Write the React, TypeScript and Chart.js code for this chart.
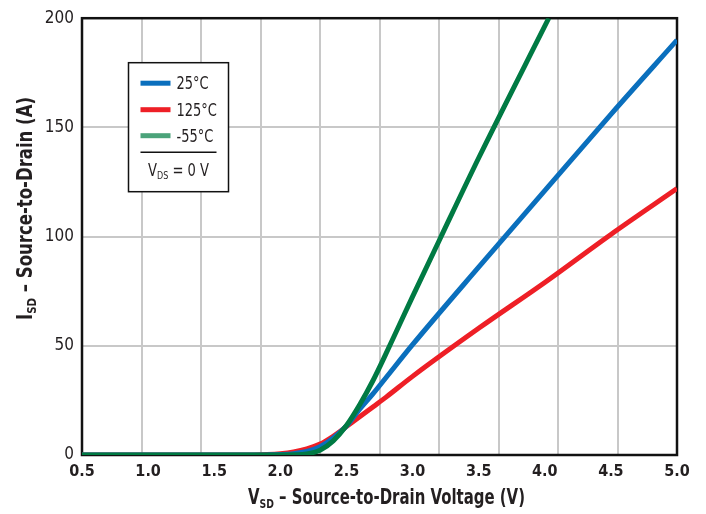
import { useEffect, useRef } from 'react';
import { Chart, registerables } from 'chart.js';

Chart.register(...registerables);

// ---- Data ----
const voltage = [0.5, 1.0, 1.5, 1.8, 1.9, 2.0, 2.1, 2.2, 2.3, 2.4, 2.5, 2.6, 2.7, 2.8, 3.0, 3.5, 4.0, 4.5, 5.0];
const current25 = [0, 0, 0, 0, 0.05, 0.2, 0.6, 1.6, 3.8, 7.8, 13.3, 21, 28, 35.5, 50.5, 86, 121, 156, 190];
const current125 = [0, 0, 0, 0.05, 0.2, 0.6, 1.4, 2.8, 5.0, 8.6, 13, 17.5, 22, 26.5, 36, 58, 79, 101, 122];
const voltageM55 = [0.5, 1.0, 1.5, 1.8, 2.0, 2.1, 2.2, 2.3, 2.4, 2.5, 2.6, 2.7, 2.8, 2.9, 3.0, 3.2, 3.5, 4.03];
const currentM55 = [0, 0, 0, 0, 0, 0.1, 0.5, 2.2, 6.5, 13.5, 23, 34, 46.5, 59.5, 72.5, 98, 136, 200];

const xTicks = [0.5, 1.0, 1.5, 2.0, 2.5, 3.0, 3.5, 4.0, 4.5, 5.0];
const yTicks = [0, 50, 100, 150, 200];

const seriesLabels = ['25°C', '125°C', '-55°C'];
const seriesColors = ['#0a6fbd', '#ee1f26', '#007a43'];
const legendColors = ['#0a6fbd', '#ee1f26', '#4ba37a'];

const FONT = '"Liberation Sans Narrow", "DejaVu Sans Condensed", "Arial Narrow", sans-serif';
const TEXT = '#231f20';

type Part = [string, boolean];

// draws centred text made of normal/subscript parts, squeezed horizontally to a target width
function drawParts(
  ctx: CanvasRenderingContext2D,
  parts: Part[],
  x: number,
  y: number,
  size: number,
  weight: string,
  targetWidth: number,
) {
  const subSize = Math.round(size * 0.62);
  const widths = parts.map(([t, sub]) => {
    ctx.font = `${weight} ${sub ? subSize : size}px ${FONT}`;
    return ctx.measureText(t).width;
  });
  const total = widths.reduce((a, b) => a + b, 0);
  const sx = targetWidth / total;
  ctx.save();
  ctx.translate(x, y);
  ctx.scale(sx, 1);
  let cx = -total / 2;
  ctx.textBaseline = 'alphabetic';
  ctx.textAlign = 'left';
  parts.forEach(([t, sub], i) => {
    ctx.font = `${weight} ${sub ? subSize : size}px ${FONT}`;
    ctx.fillText(t, cx, sub ? size * 0.2 : 0);
    cx += widths[i];
  });
  ctx.restore();
}

const decorPlugin = {
  id: 'decor',
  beforeDatasetsDraw(chart: any) {
    const { ctx, chartArea: ca } = chart;
    ctx.save();
    ctx.strokeStyle = '#111';
    ctx.lineWidth = 2.5;
    ctx.strokeRect(ca.left, ca.top, ca.right - ca.left, ca.bottom - ca.top);
    ctx.restore();
  },
  afterDraw(chart: any) {
    const { ctx, chartArea: ca } = chart;
    ctx.save();
    // Legend box
    const bx = ca.left + 46.5;
    const by = ca.top + 44.5;
    ctx.fillStyle = '#fff';
    ctx.fillRect(bx, by, 100, 129);
    ctx.strokeStyle = '#111';
    ctx.lineWidth = 1.5;
    ctx.strokeRect(bx, by, 100, 129);
    const rows = [by + 20.5, by + 47, by + 73];
    seriesLabels.forEach((lab, i) => {
      ctx.strokeStyle = legendColors[i];
      ctx.lineWidth = 5;
      ctx.beginPath();
      ctx.moveTo(bx + 12, rows[i]);
      ctx.lineTo(bx + 42, rows[i]);
      ctx.stroke();
      ctx.fillStyle = TEXT;
      ctx.font = `17px ${FONT}`;
      ctx.save();
      ctx.translate(bx + 48, rows[i] + 6);
      ctx.scale(0.85, 1);
      ctx.textAlign = 'left';
      ctx.textBaseline = 'alphabetic';
      ctx.fillText(lab, 0, 0);
      ctx.restore();
    });
    ctx.strokeStyle = '#111';
    ctx.lineWidth = 1.5;
    ctx.beginPath();
    ctx.moveTo(bx + 12, by + 89.5);
    ctx.lineTo(bx + 88, by + 89.5);
    ctx.stroke();
    ctx.fillStyle = TEXT;
    drawParts(ctx, [['V', false], ['DS', true], [' = 0 V', false]], bx + 50, by + 113, 18, 'normal', 61);

    // Axis titles
    ctx.fillStyle = TEXT;
    drawParts(ctx, [['V', false], ['SD', true], [' – Source-to-Drain Voltage (V)', false]], 386.5, 504, 21, 'bold', 277);
    ctx.translate(32, 208.5);
    ctx.rotate(-Math.PI / 2);
    drawParts(ctx, [['I', false], ['SD', true], [' – Source-to-Drain (A)', false]], 0, 0, 21, 'bold', 223);
    ctx.restore();
  },
};

export default function App() {
  const ref = useRef<HTMLCanvasElement>(null);
  useEffect(() => {
    const canvas = ref.current!;
    const toPts = (xs: number[], ys: number[]) => xs.map((x, i) => ({ x, y: ys[i] }));
    const chart = new Chart(canvas, {
      type: 'line',
      data: {
        datasets: [
          {
            label: seriesLabels[2],
            data: toPts(voltageM55, currentM55),
            borderColor: seriesColors[2],
            backgroundColor: seriesColors[2],
            borderWidth: 5,
            pointRadius: 0,
            cubicInterpolationMode: 'monotone',
            order: 0,
            xAxisID: 'x',
            yAxisID: 'y',
          },
          {
            label: seriesLabels[0],
            data: toPts(voltage, current25),
            borderColor: seriesColors[0],
            backgroundColor: seriesColors[0],
            borderWidth: 5,
            pointRadius: 0,
            cubicInterpolationMode: 'monotone',
            order: 1,
            xAxisID: 'x',
            yAxisID: 'y',
          },
          {
            label: seriesLabels[1],
            data: toPts(voltage, current125),
            borderColor: seriesColors[1],
            backgroundColor: seriesColors[1],
            borderWidth: 5,
            pointRadius: 0,
            cubicInterpolationMode: 'monotone',
            order: 2,
            xAxisID: 'x',
            yAxisID: 'y',
          },
        ],
      },
      options: {
        responsive: false,
        animation: false,
        devicePixelRatio: 1,
        layout: { padding: { top: 12, right: 29, left: 0, bottom: 0 } },
        plugins: { legend: { display: false }, tooltip: { enabled: false } },
        scales: {
          x: {
            type: 'linear',
            position: 'bottom',
            min: xTicks[0],
            max: xTicks[xTicks.length - 1],
            afterBuildTicks: (s: any) => { s.ticks = xTicks.map((v) => ({ value: v })); },
            ticks: {
              callback: (v: any) => Number(v).toFixed(1),
              font: { family: FONT, size: 16, weight: 'bold' },
              color: TEXT,
              padding: 7,
              maxRotation: 0,
              autoSkip: false,
            },
            grid: { display: false, drawTicks: false },
            border: { display: false },
            afterFit: (s: any) => { s.height = 59; },
          },
          xg: {
            type: 'linear',
            position: 'bottom',
            min: 0,
            max: 10,
            ticks: { display: false, stepSize: 1 },
            grid: { color: '#c8c8c8', lineWidth: 2, drawTicks: false },
            border: { display: false },
            afterFit: (s: any) => { s.height = 0; },
          },
          y: {
            type: 'linear',
            min: yTicks[0],
            max: yTicks[yTicks.length - 1],
            afterBuildTicks: (s: any) => { s.ticks = yTicks.map((v) => ({ value: v })); },
            ticks: {
              font: { family: FONT, size: 17 },
              color: TEXT,
              padding: 8,
            },
            grid: { color: '#c8c8c8', lineWidth: 2, drawTicks: false },
            border: { display: false },
            afterFit: (s: any) => { s.width = 82; },
          },
        },
      },
      plugins: [decorPlugin],
    } as any);
    return () => chart.destroy();
  }, []);
  return (
    <div style={{ position: 'fixed', left: 0, top: 0, width: 706, height: 514, background: '#fff' }}>
      <canvas ref={ref} width={706} height={514} style={{ display: 'block', width: 706, height: 514 }} />
    </div>
  );
}
